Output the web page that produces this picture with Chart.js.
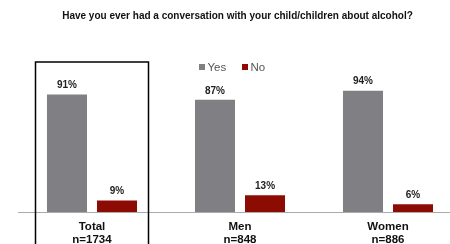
<!DOCTYPE html>
<html>
<head>
<meta charset="utf-8">
<script src="https://cdn.jsdelivr.net/npm/chart.js@4/dist/chart.umd.min.js"></script>
<style>
html,body{margin:0;padding:0;background:#fff;overflow:hidden;width:450px;height:244px;}
#wrap{position:relative;width:470px;height:244px;}
canvas{display:block;}
</style>
</head>
<body>
<div id="wrap"><canvas id="c" width="470" height="244" style="width:470px;height:244px"></canvas></div>
<script>
const subtitle = "Have you ever had a conversation with your child/children about alcohol?";
const categories = [["Total","n=1734"],["Men","n=848"],["Women","n=886"]];
const seriesNames = ["Yes","No"];
const yesValues = [91, 87, 94];
const noValues = [9, 13, 6];
const colors = ["#808084", "#8c0c04"];

const FONT = "'Liberation Sans', Arial, Helvetica, sans-serif";

const overlay = {
  id: 'overlay',
  afterDatasetsDraw(chart) {
    const ctx = chart.ctx;
    ctx.save();
    ctx.font = "bold 10px " + FONT;
    ctx.fillStyle = "#222";
    ctx.textAlign = "center";
    ctx.textBaseline = "middle";
    chart.data.datasets.forEach((ds, di) => {
      const meta = chart.getDatasetMeta(di);
      meta.data.forEach((bar, i) => {
        ctx.fillText(ds.data[i] + "%", bar.x, bar.y - 9);
      });
    });
    ctx.font = "bold 10px " + FONT;
    ctx.fillStyle = "#111";
    ctx.fillText(subtitle, 237.5, 16.5);
    ctx.font = "11.5px " + FONT;
    ctx.textAlign = "left";
    let lx = [199, 242];
    chart.data.datasets.forEach((ds, di) => {
      ctx.fillStyle = ds.backgroundColor;
      ctx.fillRect(lx[di], 64, 6, 6);
      ctx.fillStyle = "#555";
      ctx.fillText(ds.label, lx[di] + 8.5, 67.5);
    });
    const cx = chart.scales.x.getPixelForValue(0);
    ctx.strokeStyle = "#000";
    ctx.lineWidth = 1.5;
    ctx.strokeRect(cx - 56.5, 62, 113, 200);
    ctx.restore();
  }
};

new Chart(document.getElementById('c'), {
  type: 'bar',
  data: {
    labels: categories,
    datasets: [
      {label: seriesNames[0], data: yesValues, backgroundColor: colors[0], barPercentage: 0.8, categoryPercentage: 0.676},
      {label: seriesNames[1], data: noValues, backgroundColor: colors[1], barPercentage: 0.8, categoryPercentage: 0.676}
    ]
  },
  options: {
    responsive: false,
    animation: false,
    devicePixelRatio: 1,
    layout: {padding: {left: 18, right: 8, top: 83, bottom: 0}},
    plugins: {legend: {display: false}, tooltip: {enabled: false}, title: {display: false}},
    scales: {
      y: {display: false, min: 0, max: 100},
      x: {
        grid: {display: false, drawTicks: false},
        border: {display: true, color: "#aaa", width: 1},
        ticks: {font: {family: FONT, size: 11.5, weight: 'bold', lineHeight: 1.174}, color: "#111", padding: 8, maxRotation: 0},
        afterFit(s) { s.height = 32; }
      }
    }
  },
  plugins: [overlay]
});
</script>
</body>
</html>
